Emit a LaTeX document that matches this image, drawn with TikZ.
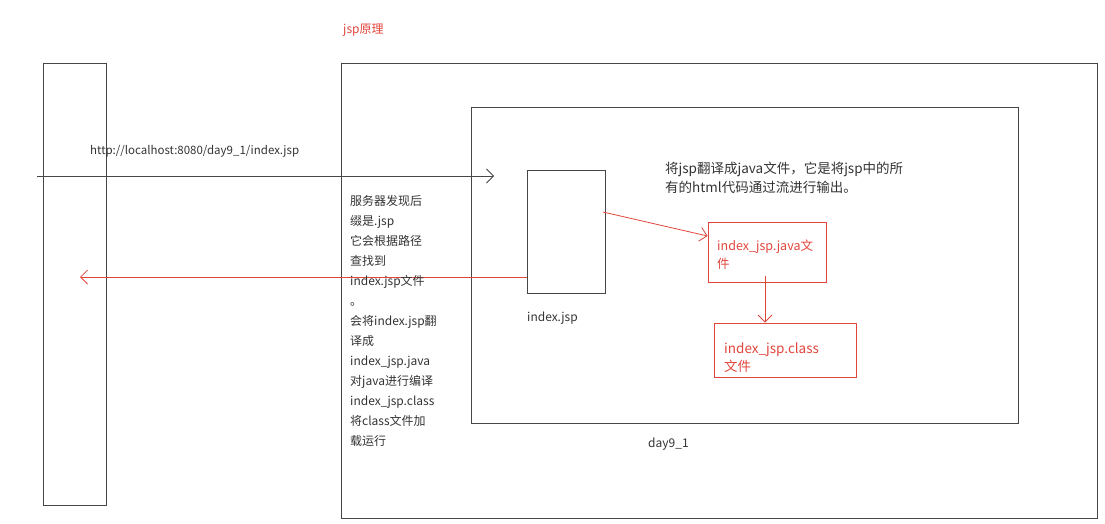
\documentclass[tikz,border=0pt]{standalone}
\usepackage{fontspec}
\setmainfont{Noto Sans CJK SC}
\usetikzlibrary{arrows.meta}
\definecolor{rd}{RGB}{225,70,60}
\definecolor{ln}{RGB}{70,70,70}
\begin{document}
\begin{tikzpicture}[x=1pt,y=-1pt,
  box/.style={draw=ln,line width=0.9pt},
  rbox/.style={draw=rd,line width=0.9pt},
  txt/.style={anchor=west,inner sep=0,font=\fontsize{11}{13}\selectfont,text=black!80},
  rtxt/.style={txt,text=rd},
  arr/.style={line width=0.8pt,-{Straight Barb[length=7pt,width=14pt]}}]
\useasboundingbox (0,0) rectangle (1105,523);
\node[rtxt,font=\fontsize{12}{14}\selectfont] (title) at (343,30) {jsp原理};
\draw[box] (43,63) rectangle (106,505);
\coordinate (client) at (37,176);
\coordinate (clientin) at (80,277);
\node[draw=ln,line width=0.9pt,minimum width=756,minimum height=455,inner sep=0] (server) at (719,290.5) {};
\node[draw=ln,line width=0.9pt,minimum width=547,minimum height=316,inner sep=0] (app) at (744.5,265) {};
\node[box,minimum width=78,minimum height=123,inner sep=0] (jsp) at (566,231.5) {};
\node[rbox,minimum width=118,minimum height=60,inner sep=0] (java) at (767,252) {};
\node[rbox,minimum width=142,minimum height=54,inner sep=0] (cls) at (785,350) {};
\coordinate (req) at (494,176);
\draw[arr,ln] (client) -- (req);
\node[txt,font=\fontsize{11.5}{13}\selectfont] (url) at (90,151) {http://localhost:8080/day9\_1/index.jsp};
\draw[arr,rd] (jsp.west |- 0,277) -- (clientin);
\draw[arr,rd] (603,212) -- (java.west |- 0,236);
\draw[arr,rd] (765,276) -- (cls.north -| 765,0);
\node[txt,font=\fontsize{12}{14}\selectfont] (jl) at (527,318) {index.jsp};
\node[txt,font=\fontsize{12}{14}\selectfont] (dl) at (648,444) {day9\_1};
\node[txt,align=left,anchor=north west,font=\fontsize{12}{20}\selectfont] (steps) at (350,195) {服务器发现后\\缀是.jsp\\它会根据路径\\查找到\\index.jsp文件\\。\\会将index.jsp翻\\译成\\index\_jsp.java\\对java进行编译\\index\_jsp.class\\将class文件加\\载运行};
\node[txt,align=left,anchor=north west,font=\fontsize{13.5}{19}\selectfont] (desc) at (665,162) {将jsp翻译成java文件，它是将jsp中的所\\有的html代码通过流进行输出。};
\node[rtxt,align=left,anchor=north west,font=\fontsize{12.5}{18}\selectfont] (jt) at (717,240) {index\_jsp.java文\\件};
\node[rtxt,align=left,anchor=north west,font=\fontsize{13.5}{18}\selectfont] (ct) at (724,343) {index\_jsp.class\\文件};
\end{tikzpicture}
\end{document}
